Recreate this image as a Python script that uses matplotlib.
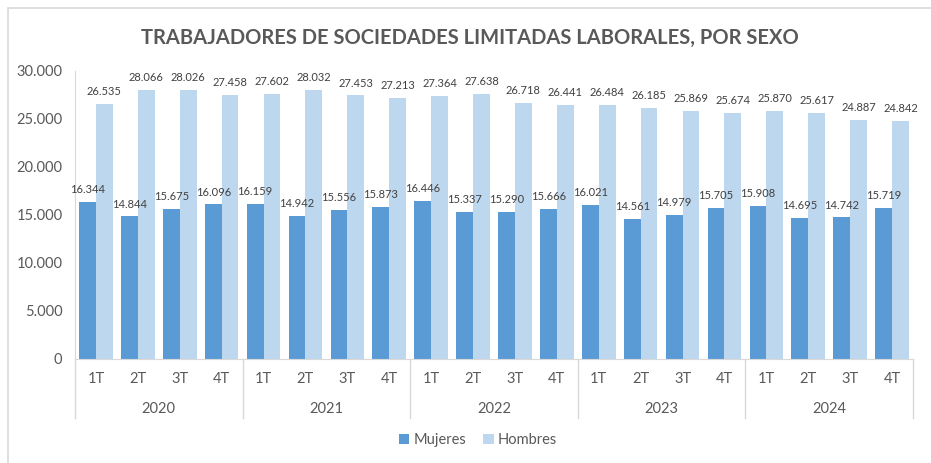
import matplotlib
matplotlib.use("Agg")
import matplotlib.pyplot as plt
from matplotlib.patches import Rectangle
import numpy as np

plt.rcParams['font.family'] = ['Lato', 'DejaVu Sans']

years = ["2020", "2021", "2022", "2023", "2024"]
quarters = ["1T", "2T", "3T", "4T"]
mujeres = [16344, 14844, 15675, 16096, 16159, 14942, 15556, 15873, 16446, 15337,
           15290, 15666, 16021, 14561, 14979, 15705, 15908, 14695, 14742, 15719]
hombres = [26535, 28066, 28026, 27458, 27602, 28032, 27453, 27213, 27364, 27638,
           26718, 26441, 26484, 26185, 25869, 25674, 25870, 25617, 24887, 24842]
yticks = [0, 5000, 10000, 15000, 20000, 25000, 30000]

def fmt(v):
    return f"{v:,}".replace(",", ".")

W, H = 931, 463
fig = plt.figure(figsize=(W / 100, H / 100), dpi=100)
fig.patch.set_facecolor("white")
# outer border
fig.add_artist(Rectangle((8 / W, -0.01), 1.1, (H - 8) / H + 0.01, transform=fig.transFigure,
                         fill=False, edgecolor="#D9D9D9", linewidth=1.2))

ax = fig.add_axes([75 / W, (H - 359) / H, (913 - 75) / W, (359 - 71) / H])
n = len(mujeres)
x = np.arange(n)
bw = 0.4
c_m, c_h = "#5B9BD5", "#BDD7EE"
ax.bar(x - bw / 2, mujeres, bw, color=c_m, label="Mujeres")
ax.bar(x + bw / 2, hombres, bw, color=c_h, label="Hombres")
ax.set_xlim(-0.5, n - 0.5)
ax.set_ylim(0, 30000)
ax.set_yticks(yticks)
ax.set_yticklabels([fmt(v) for v in yticks], fontsize=10.5, color="#595959")
ax.tick_params(axis="y", length=0, pad=9)
ax.set_xticks([])
for s in ["top", "right"]:
    ax.spines[s].set_visible(False)
ax.spines["left"].set_color("#D9D9D9")
ax.spines["bottom"].set_color("#D9D9D9")

for xi, v in zip(x, mujeres):
    ax.annotate(fmt(v), (xi - bw / 2, v), xytext=(0, 5), textcoords="offset points",
                ha="center", va="bottom", fontsize=8, color="#404040")
for xi, v in zip(x, hombres):
    ax.annotate(fmt(v), (xi + bw / 2, v), xytext=(0, 5), textcoords="offset points",
                ha="center", va="bottom", fontsize=8, color="#404040", annotation_clip=False)

# hierarchical x axis
tr = ax.get_xaxis_transform()
ph = 359 - 71
for i in range(n):
    ax.text(x[i], -20 / ph, quarters[i % 4], transform=tr, ha="center", va="center",
            fontsize=10.5, color="#595959")
for g, yr in enumerate(years):
    ax.text(g * 4 + 1.5, -50 / ph, yr, transform=tr, ha="center", va="center",
            fontsize=10.5, color="#595959")
for g in range(len(years) + 1):
    ax.plot([g * 4 - 0.5, g * 4 - 0.5], [0, -59 / ph], transform=tr, color="#D9D9D9",
            linewidth=1, clip_on=False)

fig.text(470 / W, (H - 38) / H, "TRABAJADORES DE SOCIEDADES LIMITADAS LABORALES, POR SEXO",
         ha="center", va="center", fontsize=14.5, fontweight="bold", color="#595959")

fig.legend(loc="center", bbox_to_anchor=(478 / W, (H - 440) / H), ncol=2, frameon=False,
           fontsize=10.5, handlelength=0.7, handleheight=0.7, handletextpad=0.3,
           columnspacing=1.2, labelcolor="#595959")

fig.savefig("out.png", dpi=100)
